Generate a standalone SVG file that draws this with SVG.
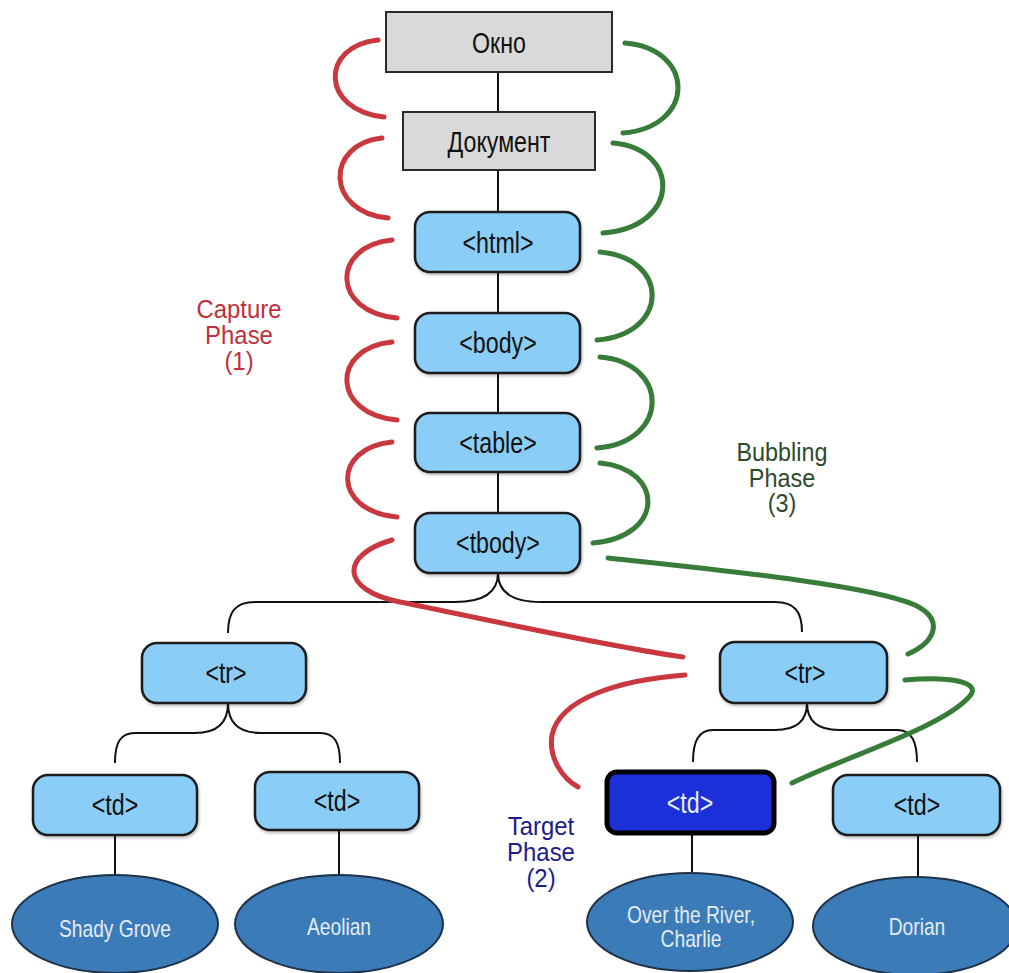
<svg xmlns="http://www.w3.org/2000/svg" width="1009" height="973" viewBox="0 0 1009 973">
<style>
.gray{fill:#d9d9d9;stroke:#2a2a2a;stroke-width:2}
.box{fill:#8acdf6;stroke:#1a1a1a;stroke-width:2.5}
.target{fill:#1b30d8;stroke:#000;stroke-width:5}
.ell{fill:#3b7bb8;stroke:#1e3248;stroke-width:2}
.lbl{font-family:"Liberation Sans",Arial,sans-serif;font-size:29px;fill:#111;text-anchor:middle}
.wl{font-family:"Liberation Sans",Arial,sans-serif;font-size:29px;fill:#e6eeff;text-anchor:middle}
.el{font-family:"Liberation Sans",Arial,sans-serif;font-size:24px;fill:#e3ebf3;text-anchor:middle}
.ph{font-family:"Liberation Sans",Arial,sans-serif;font-size:26px;text-anchor:middle}
.tree{fill:none;stroke:#111;stroke-width:2}
.red{fill:none;stroke:#c8383e;stroke-width:5;stroke-linecap:round}
.green{fill:none;stroke:#387c39;stroke-width:5;stroke-linecap:round}
</style>
<defs>
<filter id="sh" x="-10%" y="-10%" width="120%" height="130%">
<feDropShadow dx="1" dy="2" stdDeviation="1.5" flood-color="#000" flood-opacity="0.25"/>
</filter>
</defs>

<g id="connectors">
<path class="tree" d="M498,72 V112 M498,170 V212 M498,272 V313 M498,373 V413 M498,472 V513"/>
<path class="tree" d="M498,573 C498,592 485,602 455,602 H255 C235,602 228,612 228,633"/>
<path class="tree" d="M498,573 C498,592 511,602 541,602 H775 C795,602 802,612 802,632"/>
<path class="tree" d="M228,703 C228,722 218,733 195,733 H135 C120,733 115,743 115,763"/>
<path class="tree" d="M228,703 C228,722 238,733 261,733 H320 C335,733 340,743 340,763"/>
<path class="tree" d="M807,703 C807,720 797,730 775,730 H713 C698,730 693,742 693,762"/>
<path class="tree" d="M807,703 C807,720 817,730 839,730 H897 C912,730 917,742 917,762"/>
<path class="tree" d="M115,835 V875 M339,830 V875 M692,833 V873 M918,835 V877"/>

<path class="red" d="M378,40 C320,46 320,110 384,117"/>
<path class="red" d="M382,138 C325,144 325,212 388,218"/>
<path class="red" d="M392,240 C331,246 331,312 397,318"/>
<path class="red" d="M392,342 C331,348 331,414 397,420"/>
<path class="red" d="M392,442 C332,448 332,511 397,517"/>
<path class="red" d="M392,540 C340,555 340,590 400,602 S600,645 683,657"/>
<path class="red" d="M685,675 C620,680 560,698 552,735 C548,760 565,780 578,787"/>

<path class="green" d="M625,43 C696,49 696,127 623,133"/>
<path class="green" d="M613,143 C681,149 681,227 603,233"/>
<path class="green" d="M600,252 C670,258 670,334 597,340"/>
<path class="green" d="M600,357 C670,363 670,442 597,448"/>
<path class="green" d="M600,463 C665,469 665,537 593,543"/>
<path class="green" d="M608,558 C720,570 870,585 915,605 C945,620 935,642 908,654"/>
<path class="green" d="M905,680 C950,676 985,682 968,698 C940,728 850,755 792,783"/>
</g>

<g id="n-okno"><rect class="gray" x="386" y="12" width="226" height="60"/><text class="lbl" transform="translate(499,53) scale(0.8,1)">Окно</text></g>
<g id="n-doc"><rect class="gray" x="403" y="112" width="192" height="58"/><text class="lbl" transform="translate(499,152) scale(0.8,1)">Документ</text></g>
<g id="n-html"><rect class="box" filter="url(#sh)" x="415" y="212" width="165" height="60" rx="15"/><text class="lbl" transform="translate(498,253) scale(0.8,1)">&lt;html&gt;</text></g>
<g id="n-body"><rect class="box" filter="url(#sh)" x="415" y="313" width="165" height="60" rx="15"/><text class="lbl" transform="translate(498,353) scale(0.8,1)">&lt;body&gt;</text></g>
<g id="n-table"><rect class="box" filter="url(#sh)" x="415" y="413" width="165" height="59" rx="15"/><text class="lbl" transform="translate(498,453) scale(0.8,1)">&lt;table&gt;</text></g>
<g id="n-tbody"><rect class="box" filter="url(#sh)" x="415" y="513" width="165" height="60" rx="15"/><text class="lbl" transform="translate(498,553) scale(0.8,1)">&lt;tbody&gt;</text></g>
<g id="n-tr1"><rect class="box" filter="url(#sh)" x="142" y="643" width="164" height="60" rx="15"/><text class="lbl" transform="translate(226,683) scale(0.8,1)">&lt;tr&gt;</text></g>
<g id="n-tr2"><rect class="box" filter="url(#sh)" x="720" y="642" width="167" height="61" rx="15"/><text class="lbl" transform="translate(805,683) scale(0.8,1)">&lt;tr&gt;</text></g>
<g id="n-td1"><rect class="box" filter="url(#sh)" x="33" y="775" width="164" height="60" rx="15"/><text class="lbl" transform="translate(115,815) scale(0.8,1)">&lt;td&gt;</text></g>
<g id="n-td2"><rect class="box" filter="url(#sh)" x="255" y="772" width="164" height="58" rx="15"/><text class="lbl" transform="translate(337,811) scale(0.8,1)">&lt;td&gt;</text></g>
<g id="n-td3"><rect class="target" x="607" y="772" width="167" height="61" rx="10"/><text class="wl" transform="translate(690,813) scale(0.8,1)">&lt;td&gt;</text></g>
<g id="n-td4"><rect class="box" filter="url(#sh)" x="833" y="775" width="167" height="60" rx="15"/><text class="lbl" transform="translate(917,815) scale(0.8,1)">&lt;td&gt;</text></g>

<g id="n-shady"><ellipse class="ell" cx="115" cy="924" rx="103" ry="49"/><text class="el" transform="translate(115,937) scale(0.8,1)">Shady Grove</text></g>
<g id="n-aeolian"><ellipse class="ell" cx="339" cy="924" rx="104" ry="49"/><text class="el" transform="translate(339,935) scale(0.8,1)">Aeolian</text></g>
<g id="n-over"><ellipse class="ell" cx="690" cy="922" rx="103" ry="49"/><text class="el" transform="translate(691,923) scale(0.8,1)">Over the River,</text><text class="el" transform="translate(691,947) scale(0.8,1)">Charlie</text></g>
<g id="n-dorian"><ellipse class="ell" cx="915" cy="926" rx="102" ry="49"/><text class="el" transform="translate(917,935) scale(0.8,1)">Dorian</text></g>

<g id="label-capture" fill="#c0303a">
<text class="ph" transform="translate(239,318) scale(0.92,1)">Capture</text>
<text class="ph" transform="translate(239,344) scale(0.92,1)">Phase</text>
<text class="ph" transform="translate(239,370) scale(0.92,1)">(1)</text>
</g>
<g id="label-bubbling" fill="#2d4a2d">
<text class="ph" transform="translate(782,461) scale(0.9,1)">Bubbling</text>
<text class="ph" transform="translate(782,487) scale(0.9,1)">Phase</text>
<text class="ph" transform="translate(782,512) scale(0.9,1)">(3)</text>
</g>
<g id="label-target" fill="#1c1c8c">
<text class="ph" transform="translate(541,835) scale(0.92,1)">Target</text>
<text class="ph" transform="translate(541,861) scale(0.92,1)">Phase</text>
<text class="ph" transform="translate(541,887) scale(0.92,1)">(2)</text>
</g>
</svg>
